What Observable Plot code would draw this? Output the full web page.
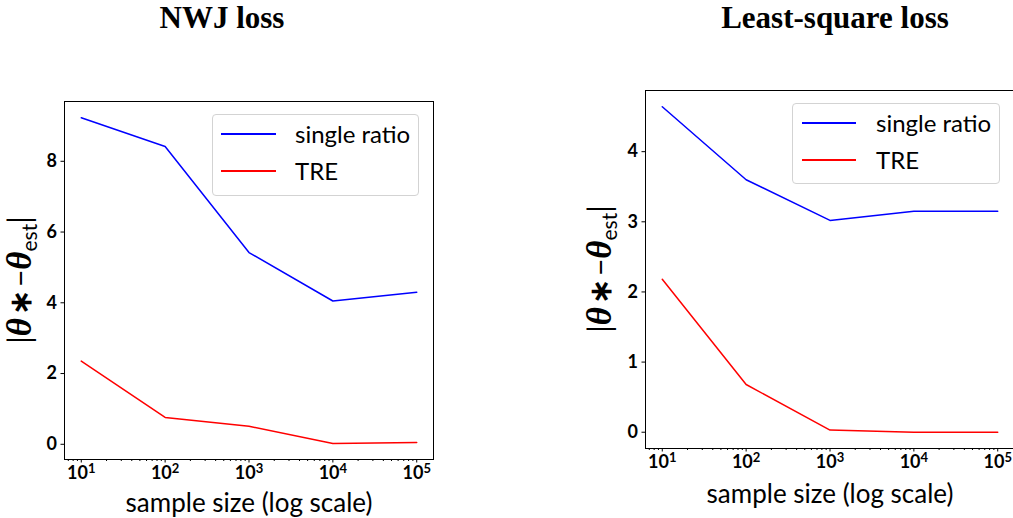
<!DOCTYPE html>
<html><head><meta charset="utf-8">
<script src="https://cdn.jsdelivr.net/npm/d3@7"></script>
<script src="https://cdn.jsdelivr.net/npm/@observablehq/plot@0.6"></script>
<style>
body{margin:0;background:#fff;}
#root{position:relative;width:1013px;height:518px;overflow:hidden;background:#fff;}
#root svg{position:absolute;top:0;}
.title{position:absolute;top:0px;font-family:"Liberation Serif",serif;font-weight:bold;font-size:31px;line-height:35px;transform:translateX(-50%);white-space:nowrap;color:#000}
.ylab{position:absolute;font-family:"Lato",sans-serif;font-size:30px;line-height:34px;white-space:nowrap;transform:translate(-50%,-50%) rotate(-90deg);color:#000}
.ylab .th{font-family:"Liberation Serif",serif;font-style:italic;font-weight:bold;font-size:35px}
.ylab .op{font-weight:bold;padding:0 3px}
.ylab sub{font-size:21px;vertical-align:-6px;font-family:"Lato",sans-serif}
.legbox{position:absolute;border:1px solid #d3d3d3;border-radius:4px;background:rgba(255,255,255,0.8);box-sizing:border-box}
.legline{position:absolute;height:1.6px}
.legtext{position:absolute;font-family:"Lato",sans-serif;font-size:24px;line-height:24px;white-space:nowrap;color:#000}
</style></head><body><div id="root"></div><script>
// ---- data ----
const sampleSizes = [10, 100, 1000, 10000, 100000];
const nwjSingle = [9.23, 8.42, 5.42, 4.05, 4.30];
const nwjTRE = [2.35, 0.76, 0.51, 0.02, 0.05];
const lsSingle = [4.64, 3.60, 3.02, 3.15, 3.15];
const lsTRE = [2.18, 0.68, 0.03, 0.00, 0.00];
const xTickValues = [10, 100, 1000, 10000, 100000];
const xTickBase = "10";
const xTickExponents = ["1", "2", "3", "4", "5"];
const nwjYTicks = [0, 2, 4, 6, 8];
const lsYTicks = [0, 1, 2, 3, 4];
const panelTitles = ["NWJ loss", "Least-square loss"];
const seriesNames = ["single ratio", "TRE"];
const seriesColors = ["#0000ff", "#ff0000"];
const xLabel = "sample size (log scale)";

const root = document.getElementById("root");

function rows(single, tre) {
  return [
    ...sampleSizes.map((n, i) => ({n, v: single[i], s: seriesNames[0]})),
    ...sampleSizes.map((n, i) => ({n, v: tre[i], s: seriesNames[1]}))
  ];
}

const minorTicks = [];
for (let k = 0; k <= 5; k++) for (let m = 2; m <= 9; m++) minorTicks.push(m * Math.pow(10, k));

function panel(cfg) {
  const xDomain = [Math.pow(10, 0.8), Math.pow(10, 5.2)];
  const minor = minorTicks.filter(t => t >= xDomain[0] && t <= xDomain[1]);
  const chart = Plot.plot({
    width: cfg.width, height: 518,
    marginLeft: cfg.ml, marginRight: cfg.mr, marginTop: cfg.mt, marginBottom: cfg.mb,
    style: {fontFamily: "Lato, sans-serif", fontSize: "16px", background: "transparent", overflow: "visible"},
    x: {type: "log", domain: xDomain},
    y: {domain: cfg.yDomain},
    color: {domain: seriesNames, range: seriesColors},
    marks: [
      Plot.axisX({ticks: minor, tickSize: 2, tickFormat: () => "", label: null, stroke: "#000"}),
      Plot.axisX({ticks: xTickValues, tickSize: 3.5, tickPadding: 3,
        tickFormat: d => "@" + xTickValues.indexOf(d), label: null,
        fontSize: 18, fontWeight: "bold", stroke: "#000"}),
      Plot.axisY({ticks: cfg.yTicks, tickSize: 3.5, tickPadding: 4, label: null,
        tickFormat: d => String(d), fontSize: 18, fontWeight: "bold", stroke: "#000"}),
      Plot.line(rows(cfg.single, cfg.tre), {x: "n", y: "v", stroke: "s", strokeWidth: 1.5}),
      Plot.frame({stroke: "#000", strokeWidth: 1}),
      Plot.text([xLabel], {frameAnchor: "bottom", lineAnchor: "middle", dy: cfg.xlabDy,
        text: d => d, fontSize: 26, fill: "#000"})
    ]
  });
  // turn "10" + exponent into real superscripted text
  chart.querySelectorAll("text").forEach(t => {
    const m = /^@(\d)$/.exec(t.textContent);
    if (!m) return;
    const i = +m[1];
    t.textContent = xTickBase;
    const sup = document.createElementNS("http://www.w3.org/2000/svg", "tspan");
    sup.setAttribute("dy", "-0.45em");
    sup.setAttribute("font-size", "13");
    sup.textContent = xTickExponents[i];
    t.appendChild(sup);
  });
  chart.style.left = cfg.left + "px";
  root.appendChild(chart);

  const t = document.createElement("div");
  t.className = "title"; t.textContent = cfg.title;
  t.style.left = cfg.titleX + "px";
  root.appendChild(t);

  const yl = document.createElement("div");
  yl.className = "ylab";
  yl.innerHTML = '|<span class="th">θ</span><span class="op">∗</span>−<span class="th">θ</span><sub>est</sub>|';
  yl.style.left = cfg.ylabX + "px"; yl.style.top = cfg.ylabY + "px";
  root.appendChild(yl);

  const lb = cfg.leg;
  const box = document.createElement("div");
  box.className = "legbox";
  Object.assign(box.style, {left: lb.x + "px", top: lb.y + "px", width: lb.w + "px", height: lb.h + "px"});
  root.appendChild(box);
  seriesNames.forEach((name, i) => {
    const ln = document.createElement("div");
    ln.className = "legline";
    Object.assign(ln.style, {left: lb.lx + "px", width: lb.lw + "px", top: (lb.rows[i] - 0.8) + "px", background: seriesColors[i]});
    root.appendChild(ln);
    const tx = document.createElement("div");
    tx.className = "legtext"; tx.textContent = name;
    Object.assign(tx.style, {left: lb.tx + "px", top: (lb.rows[i] - 12) + "px"});
    root.appendChild(tx);
  });
}

panel({
  left: 0, width: 460, ml: 64, mr: 27, mt: 101, mb: 59,
  yDomain: [-0.43, 9.69], yTicks: nwjYTicks, single: nwjSingle, tre: nwjTRE,
  xlabDy: 44, title: panelTitles[0], titleX: 222, ylabX: 24, ylabY: 280,
  leg: {x: 212, y: 114, w: 207, h: 82, lx: 221, lw: 55, tx: 295, rows: [134, 171]}
});
panel({
  left: 560, width: 454, ml: 85, mr: 0, mt: 90, mb: 70,
  yDomain: [-0.232, 4.872], yTicks: lsYTicks, single: lsSingle, tre: lsTRE,
  xlabDy: 46, title: panelTitles[1], titleX: 835, ylabX: 604, ylabY: 269,
  leg: {x: 792, y: 103, w: 208, h: 81, lx: 802, lw: 54, tx: 876, rows: [123, 160]}
});
</script></body></html>
